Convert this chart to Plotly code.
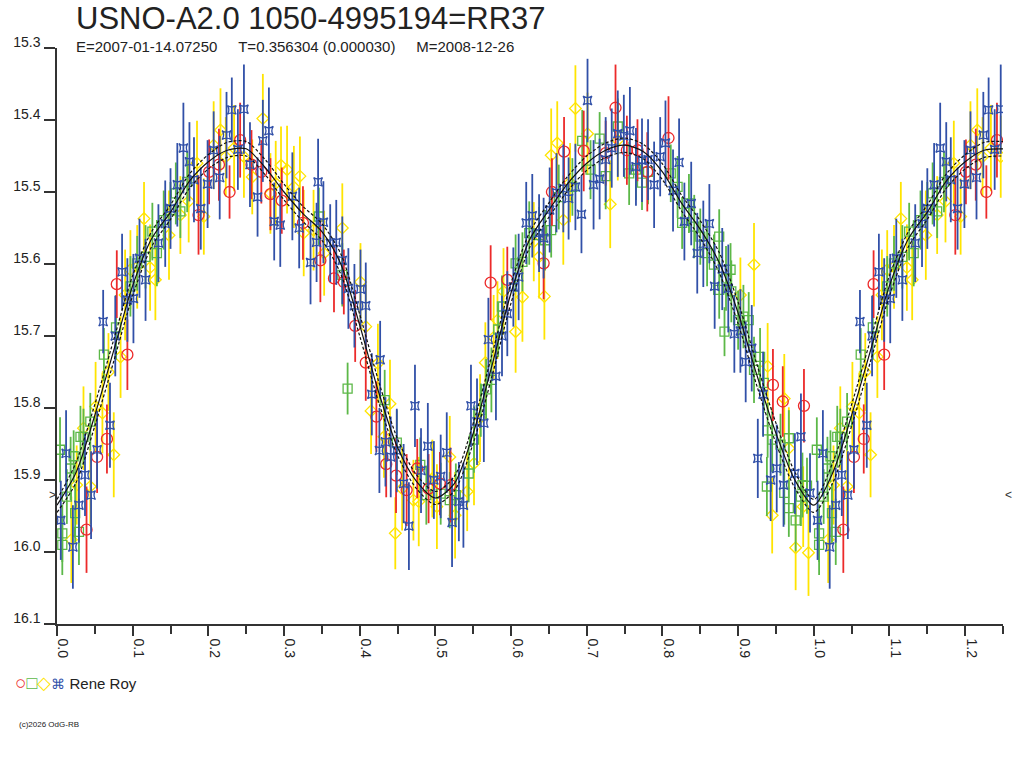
import plotly.graph_objects as go

# ---------------- data ----------------
curve_phase = [0.000, 0.025, 0.050, 0.075, 0.100, 0.125, 0.150, 0.175, 0.200, 0.225,
               0.250, 0.275, 0.300, 0.325, 0.350, 0.375, 0.400, 0.425, 0.450, 0.475,
               0.500, 0.525, 0.550, 0.575, 0.600, 0.625, 0.650, 0.675, 0.700, 0.725,
               0.750, 0.775, 0.800, 0.825, 0.850, 0.875, 0.900, 0.925, 0.950, 0.975, 1.000]
curve_mag = [15.935, 15.890, 15.810, 15.720, 15.630, 15.565, 15.528, 15.485, 15.458, 15.442,
             15.440, 15.466, 15.500, 15.530, 15.555, 15.600, 15.685, 15.778, 15.855, 15.902,
             15.925, 15.905, 15.835, 15.740, 15.640, 15.565, 15.525, 15.488, 15.460, 15.442,
             15.435, 15.444, 15.472, 15.515, 15.552, 15.598, 15.668, 15.755, 15.835, 15.900, 15.935]
curve_upper = [15.927, 15.876, 15.795, 15.705, 15.616, 15.555, 15.518, 15.475, 15.448, 15.431,
               15.430, 15.455, 15.489, 15.520, 15.544, 15.586, 15.670, 15.763, 15.843, 15.893,
               15.916, 15.895, 15.821, 15.725, 15.626, 15.555, 15.515, 15.478, 15.450, 15.432,
               15.425, 15.434, 15.461, 15.504, 15.540, 15.584, 15.653, 15.740, 15.821, 15.889, 15.927]
curve_lower = [15.945, 15.904, 15.825, 15.735, 15.644, 15.576, 15.538, 15.495, 15.468, 15.452,
               15.450, 15.476, 15.511, 15.541, 15.567, 15.614, 15.700, 15.792, 15.866, 15.912,
               15.934, 15.915, 15.849, 15.755, 15.654, 15.576, 15.535, 15.498, 15.470, 15.452,
               15.445, 15.454, 15.483, 15.526, 15.564, 15.612, 15.683, 15.770, 15.849, 15.911, 15.945]

red_phase = [0.039, 0.053, 0.066, 0.079, 0.093, 0.187, 0.201, 0.214, 0.228, 0.242, 0.257, 0.270, 0.282, 0.297, 0.325,
             0.348, 0.366, 0.379, 0.394, 0.408, 0.422, 0.435, 0.448, 0.462, 0.476, 0.491, 0.506, 0.520, 0.573, 0.595,
             0.643, 0.654, 0.670, 0.696, 0.725, 0.738, 0.753, 0.767, 0.780, 0.808, 0.946, 0.959, 0.987]
red_mag = [15.969, 15.868, 15.843, 15.628, 15.726, 15.532, 15.472, 15.462, 15.500, 15.428, 15.462, 15.472, 15.503, 15.512, 15.543,
           15.595, 15.620, 15.625, 15.686, 15.737, 15.812, 15.878, 15.894, 15.914, 15.884, 15.912, 15.905, 15.907, 15.626, 15.622,
           15.599, 15.500, 15.444, 15.443, 15.446, 15.383, 15.442, 15.442, 15.472, 15.425, 15.768, 15.791, 15.797]
red_err = [0.060, 0.050, 0.048, 0.047, 0.049, 0.055, 0.045, 0.050, 0.037, 0.052, 0.048, 0.044, 0.050, 0.046, 0.051,
           0.058, 0.047, 0.045, 0.050, 0.053, 0.049, 0.046, 0.052, 0.050, 0.041, 0.048, 0.044, 0.052, 0.052, 0.046,
           0.050, 0.047, 0.048, 0.056, 0.045, 0.060, 0.048, 0.043, 0.055, 0.058, 0.050, 0.049, 0.051]

green_phase = [0.004, 0.007, 0.007, 0.013, 0.018, 0.022, 0.024, 0.029, 0.031, 0.035, 0.044, 0.062, 0.078, 0.097, 0.106,
               0.117, 0.126, 0.132, 0.141, 0.150, 0.157, 0.163, 0.172,
               0.346, 0.377, 0.384, 0.433, 0.449, 0.480, 0.488, 0.507, 0.519, 0.527, 0.544, 0.551, 0.560, 0.567, 0.574,
               0.583, 0.588, 0.606, 0.615, 0.624, 0.637,
               0.645, 0.653, 0.663, 0.681, 0.694, 0.705, 0.717, 0.725, 0.741, 0.756, 0.765, 0.773, 0.781, 0.811, 0.820,
               0.826, 0.835, 0.842, 0.850, 0.859, 0.868, 0.875, 0.875, 0.884, 0.890, 0.891, 0.882, 0.900, 0.907, 0.914,
               0.921, 0.929, 0.934, 0.939, 0.945, 0.938, 0.956, 0.967, 0.961, 0.967,
               0.976, 0.983, 0.985, 0.991]
green_mag = [15.858, 15.974, 15.990, 15.923, 15.884, 15.867, 15.946, 15.972, 15.840, 15.840, 15.819, 15.726, 15.688, 15.631, 15.599,
             15.590, 15.555, 15.585, 15.539, 15.525, 15.502, 15.527, 15.486,
             15.534, 15.615, 15.773, 15.789, 15.848, 15.879, 15.921, 15.919, 15.928, 15.921, 15.891, 15.844, 15.803, 15.774, 15.761,
             15.691, 15.659, 15.599, 15.597, 15.557, 15.560,
             15.567, 15.553, 15.507, 15.493, 15.429, 15.469, 15.426, 15.478, 15.409, 15.474, 15.469, 15.487, 15.472, 15.474, 15.493,
             15.543, 15.516, 15.548, 15.562, 15.585, 15.601, 15.562, 15.636, 15.620, 15.608, 15.638, 15.694, 15.678, 15.673, 15.678,
             15.747, 15.729, 15.765, 15.831, 15.844, 15.909, 15.851, 15.842, 15.918, 15.939,
             15.956, 15.923, 15.907, 15.908]
green_err = [0.045, 0.040, 0.042, 0.038, 0.044, 0.036, 0.041, 0.046, 0.043, 0.039, 0.040, 0.037, 0.045, 0.042, 0.038,
             0.044, 0.040, 0.046, 0.041, 0.039, 0.043, 0.037, 0.042,
             0.040, 0.044, 0.036, 0.042, 0.045, 0.038, 0.041, 0.043, 0.039, 0.044, 0.040, 0.046, 0.037, 0.042, 0.045,
             0.038, 0.043, 0.040, 0.041, 0.044, 0.039,
             0.042, 0.038, 0.045, 0.040, 0.043, 0.041, 0.037, 0.046, 0.039, 0.044, 0.042, 0.038, 0.045, 0.040, 0.043,
             0.036, 0.041, 0.044, 0.039, 0.046, 0.042, 0.038, 0.040, 0.045, 0.037, 0.043, 0.034, 0.041, 0.044, 0.039,
             0.046, 0.040, 0.042, 0.038, 0.045, 0.041, 0.043, 0.039, 0.044, 0.040,
             0.043, 0.041, 0.045, 0.039]

yellow_phase = [0.019, 0.026, 0.035, 0.044, 0.051, 0.060, 0.068, 0.075, 0.084, 0.090, 0.097, 0.106, 0.115, 0.123, 0.130,
                0.148, 0.163, 0.174, 0.185, 0.194, 0.207, 0.216, 0.223, 0.234, 0.247, 0.258, 0.272, 0.282, 0.289, 0.296,
                0.304, 0.313, 0.321, 0.326,
                0.339, 0.353, 0.377, 0.401, 0.408, 0.415, 0.424, 0.432, 0.440, 0.447, 0.456, 0.471, 0.478, 0.496, 0.502,
                0.519, 0.526, 0.542, 0.551, 0.559, 0.566, 0.577, 0.582, 0.590, 0.606, 0.615, 0.630, 0.637,
                0.644, 0.653, 0.661, 0.669, 0.678, 0.685, 0.701, 0.731, 0.741, 0.903, 0.921, 0.939, 0.945, 0.961, 0.967,
                0.976, 0.986, 0.993]
yellow_mag = [15.983, 15.907, 15.828, 15.909, 15.798, 15.807, 15.750, 15.865, 15.729, 15.643, 15.608, 15.604, 15.537, 15.605, 15.622,
              15.560, 15.532, 15.513, 15.460, 15.534, 15.435, 15.414, 15.451, 15.439, 15.451, 15.479, 15.398, 15.502, 15.488, 15.463,
              15.469, 15.493, 15.478, 15.557,
              15.553, 15.585, 15.550, 15.625, 15.687, 15.804, 15.738, 15.840, 15.794, 15.974, 15.912, 15.928, 15.930, 15.898, 15.937,
              15.868, 15.949, 15.916, 15.877, 15.814, 15.737, 15.702, 15.678, 15.638, 15.694, 15.646, 15.569, 15.590,
              15.645, 15.449, 15.432, 15.539, 15.487, 15.384, 15.419, 15.517, 15.428, 15.643, 15.601, 15.742, 15.949, 15.787, 15.856,
              15.994, 15.937, 16.001]
yellow_err = [0.060, 0.055, 0.058, 0.052, 0.062, 0.056, 0.054, 0.059, 0.057, 0.063, 0.055, 0.058, 0.051, 0.060, 0.056,
              0.062, 0.054, 0.057, 0.059, 0.053, 0.061, 0.058, 0.055, 0.060, 0.057, 0.052, 0.062, 0.056, 0.059, 0.054,
              0.061, 0.057, 0.055, 0.060,
              0.056, 0.059, 0.062, 0.054, 0.058, 0.060, 0.055, 0.057, 0.061, 0.050, 0.058, 0.056, 0.062, 0.054, 0.059,
              0.057, 0.060, 0.055, 0.058, 0.061, 0.056, 0.059, 0.054, 0.060, 0.057, 0.062, 0.055, 0.058,
              0.060, 0.065, 0.058, 0.062, 0.055, 0.060, 0.057, 0.061, 0.056, 0.052, 0.058, 0.060, 0.053, 0.062, 0.057,
              0.059, 0.056, 0.060]

blue_phase = [0.005, 0.012, 0.021, 0.029, 0.037, 0.045, 0.053, 0.061, 0.070, 0.077,
              0.086, 0.093, 0.101, 0.109, 0.117, 0.134, 0.143, 0.150, 0.159, 0.167,
              0.175, 0.181, 0.190, 0.199, 0.207, 0.215, 0.224, 0.231, 0.239, 0.247,
              0.255, 0.265, 0.272, 0.280, 0.287, 0.295, 0.311, 0.320,
              0.335, 0.343, 0.345, 0.352, 0.361, 0.369, 0.377, 0.385, 0.393, 0.401,
              0.408, 0.416, 0.426, 0.427, 0.434, 0.441, 0.449, 0.458, 0.465, 0.473,
              0.481, 0.490, 0.498, 0.507, 0.515, 0.522, 0.531, 0.537, 0.547, 0.555,
              0.564, 0.570, 0.580, 0.588, 0.595, 0.603, 0.610, 0.620, 0.628, 0.637,
              0.643, 0.651, 0.660, 0.669, 0.676, 0.685, 0.693, 0.701, 0.709, 0.717,
              0.725, 0.733, 0.741, 0.749, 0.757, 0.765, 0.773, 0.781, 0.789, 0.797,
              0.804, 0.814, 0.822, 0.829, 0.838, 0.846, 0.854, 0.862, 0.869, 0.879,
              0.887, 0.895, 0.903, 0.910, 0.918, 0.926, 0.933, 0.943, 0.951, 0.960,
              0.975, 0.983, 0.995]
blue_mag = [15.956, 15.863, 15.993, 15.935, 15.893, 15.921, 15.858, 15.680, 15.824, 15.700,
            15.611, 15.650, 15.648, 15.592, 15.622, 15.571, 15.544, 15.523, 15.490, 15.439,
            15.458, 15.483, 15.523, 15.489, 15.442, 15.480, 15.421, 15.386, 15.441, 15.385,
            15.462, 15.507, 15.429, 15.415, 15.541, 15.546, 15.506, 15.550,
            15.598, 15.570, 15.486, 15.542, 15.571, 15.570, 15.595, 15.634, 15.658, 15.635,
            15.658, 15.781, 15.859, 15.733, 15.847, 15.868, 15.859, 15.905, 15.964, 15.797,
            15.887, 15.853, 15.900, 15.895, 15.862, 15.959, 15.930, 15.935, 15.797, 15.819,
            15.821, 15.705, 15.756, 15.700, 15.669, 15.632, 15.618, 15.543, 15.533, 15.557,
            15.564, 15.525, 15.501, 15.495, 15.509, 15.493, 15.531, 15.373, 15.490, 15.482,
            15.455, 15.439, 15.419, 15.422, 15.415, 15.465, 15.456, 15.455, 15.490, 15.451,
            15.432, 15.498, 15.459, 15.541, 15.516, 15.585, 15.572, 15.544, 15.631, 15.607,
            15.634, 15.697, 15.693, 15.736, 15.717, 15.870, 15.781, 15.900, 15.884, 15.907,
            15.891, 15.840, 15.918]
blue_err = [0.055, 0.060, 0.058, 0.052, 0.057, 0.061, 0.054, 0.044, 0.059, 0.056,
            0.053, 0.058, 0.062, 0.055, 0.057, 0.054, 0.060, 0.056, 0.058, 0.063,
            0.055, 0.059, 0.057, 0.061, 0.054, 0.058, 0.060, 0.045, 0.056, 0.062,
            0.059, 0.055, 0.057, 0.060, 0.054, 0.058, 0.061, 0.056,
            0.058, 0.055, 0.060, 0.057, 0.054, 0.059, 0.061, 0.056, 0.058, 0.055,
            0.060, 0.057, 0.059, 0.054, 0.062, 0.056, 0.058, 0.055, 0.061, 0.057,
            0.059, 0.060, 0.054, 0.058, 0.056, 0.062, 0.055, 0.059, 0.057, 0.060,
            0.054, 0.058, 0.061, 0.056, 0.059, 0.055, 0.060, 0.057, 0.058, 0.054,
            0.056, 0.059, 0.055, 0.061, 0.057, 0.060, 0.054, 0.058, 0.062, 0.056,
            0.059, 0.055, 0.060, 0.057, 0.061, 0.054, 0.058, 0.056, 0.060, 0.055,
            0.059, 0.057, 0.061, 0.054, 0.058, 0.056, 0.060, 0.055, 0.059, 0.057,
            0.061, 0.054, 0.058, 0.056, 0.060, 0.055, 0.059, 0.057, 0.061, 0.058,
            0.056, 0.060, 0.055]

x_tick_vals = [0.0, 0.1, 0.2, 0.3, 0.4, 0.5, 0.6, 0.7, 0.8, 0.9, 1.0, 1.1, 1.2]
y_tick_vals = [15.3, 15.4, 15.5, 15.6, 15.7, 15.8, 15.9, 16.0, 16.1]

TITLE = "USNO-A2.0 1050-4995194=RR37"
SUBTITLE = "E=2007-01-14.07250     T=0.356304 (0.000030)     M=2008-12-26"
OBSERVER = "Rene Roy"
COPYRIGHT = "(c)2026 OdG-RB"

EXTRA = 0.25  # phases shown twice (0 .. 0.25 repeated after 1.0)


def wrap(ph, *cols, include_zero=True):
    """Repeat the first quarter of the cycle after phase 1."""
    sel = [i for i, p in enumerate(ph) if p <= EXTRA + 1e-9 and (include_zero or p > 0)]
    out_ph = list(ph) + [ph[i] + 1.0 for i in sel]
    outs = [list(c) + [c[i] for i in sel] for c in cols]
    return (out_ph, *outs)


RED, GREEN, YELLOW, BLUE = "#ec2a2a", "#5cb848", "#ffe400", "#3150a8"
FONT = "Liberation Sans, Arial, sans-serif"

fig = go.Figure()

series = [
    (yellow_phase, yellow_mag, yellow_err, YELLOW, "diamond-open", 9),
    (green_phase, green_mag, green_err, GREEN, "square-open", 9),
    (red_phase, red_mag, red_err, RED, "circle-open", 11),
    (blue_phase, blue_mag, blue_err, BLUE, "star-square-open", 8),
]
for ph, mg, er, col, sym, size in series:
    x, y, e = wrap(ph, mg, er)
    fig.add_trace(go.Scatter(
        x=x, y=y, mode="markers",
        marker=dict(symbol=sym, size=size, color=col, line=dict(color=col, width=1.3)),
        error_y=dict(type="data", array=e, visible=True, color=col, thickness=1.8, width=0),
        hoverinfo="skip", showlegend=False,
    ))

cx, cm, cu, cl = wrap(curve_phase, curve_mag, curve_upper, curve_lower, include_zero=False)
for yy, dash in ((cu, "3px,2px"), (cl, "3px,2px"), (cm, "solid")):
    fig.add_trace(go.Scatter(
        x=cx, y=yy, mode="lines",
        line=dict(color="#111111", width=1.2, dash=dash, shape="spline", smoothing=0.8),
        hoverinfo="skip", showlegend=False,
    ))

legend_text = (f'<span style="color:{RED};font-size:19px">○</span>'
               f'<span style="color:{GREEN};font-size:18px">□</span>'
               f'<span style="color:{YELLOW};font-size:18px">◇</span>'
               f'<span style="color:{BLUE};font-size:14px">⌘</span>\u00a0{OBSERVER}')

annotations = [
    dict(text=TITLE, x=(74 - 57) / 946, y=(624 - 19) / 576, xref="paper", yref="paper",
         xanchor="left", yanchor="middle", showarrow=False,
         font=dict(family=FONT, size=31, color="#222222")),
    dict(text=SUBTITLE.replace(" ", "\u00a0"), x=(74 - 57) / 946, y=(624 - 47) / 576,
         xref="paper", yref="paper", xanchor="left", yanchor="middle", showarrow=False,
         font=dict(family=FONT, size=15, color="#222222")),
    dict(text=legend_text, x=(13 - 57) / 946, y=(624 - 682) / 576,
         xref="paper", yref="paper", xanchor="left", yanchor="middle", showarrow=False,
         font=dict(family=FONT, size=15, color="#222222")),
    dict(text=COPYRIGHT, x=(17 - 57) / 946, y=(624 - 724) / 576, xref="paper", yref="paper",
         xanchor="left", yanchor="middle", showarrow=False,
         font=dict(family=FONT, size=8, color="#222222")),
    dict(text=">", x=(52 - 57) / 946, y=15.921, xref="paper", yref="y",
         xanchor="center", yanchor="middle", showarrow=False,
         font=dict(family=FONT, size=12, color="#333333")),
    dict(text="<", x=(1008 - 57) / 946, y=15.921, xref="paper", yref="y",
         xanchor="center", yanchor="middle", showarrow=False,
         font=dict(family=FONT, size=12, color="#333333")),
]

fig.update_layout(
    width=1024, height=768,
    margin=dict(l=57, r=21, t=48, b=144, pad=0),
    paper_bgcolor="white", plot_bgcolor="white",
    font=dict(family=FONT, size=14, color="#222222"),
    annotations=annotations,
    showlegend=False,
)
fig.update_xaxes(
    range=[0, 1.25], tickmode="array", tickvals=x_tick_vals,
    ticktext=[f"{v:.1f}" for v in x_tick_vals],
    ticks="outside", ticklen=10, tickwidth=1.5, tickcolor="#333333",
    minor=dict(tickmode="linear", tick0=0.05, dtick=0.1, ticks="outside", ticklen=8,
               tickwidth=1.5, tickcolor="#333333"),
    tickangle=90, ticklabelshift=6,
    showline=True, linecolor="#333333", linewidth=1.5,
    showgrid=False, zeroline=False, fixedrange=True,
    tickfont=dict(family=FONT, size=14, color="#222222"),
)
fig.update_yaxes(
    range=[16.1, 15.3], tickmode="array", tickvals=y_tick_vals,
    ticktext=[f"{v:.1f}" for v in y_tick_vals],
    ticks="outside", ticklen=11, tickwidth=1.5, tickcolor="#333333",
    ticklabelshift=6, ticklabelstandoff=1,
    showline=True, linecolor="#333333", linewidth=1.5,
    showgrid=False, zeroline=False, fixedrange=True,
    tickfont=dict(family=FONT, size=14, color="#222222"),
)

fig.write_html(
    "out.html",
    config={"displayModeBar": False},
    post_script="document.body.style.margin='0';document.body.style.padding='0';",
)
